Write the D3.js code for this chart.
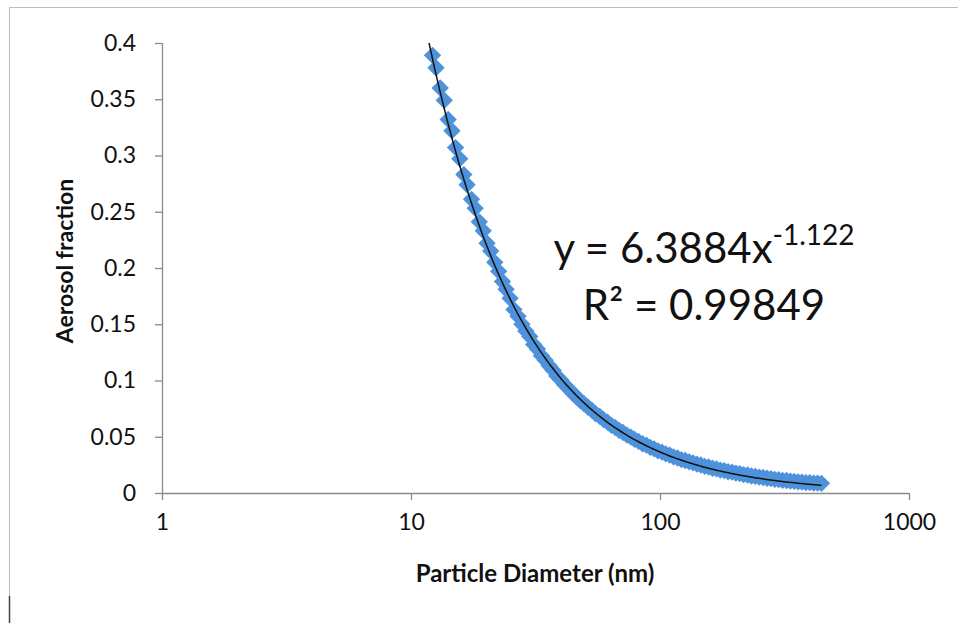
<!DOCTYPE html>
<html>
<head>
<meta charset="utf-8">
<script src="https://cdn.jsdelivr.net/npm/d3@7"></script>
<style>
  body { margin: 0; background: #fff; }
  svg text { font-family: Lato, "Open Sans", sans-serif; fill: #111; }
</style>
</head>
<body>
<div id="chart"></div>
<script>
// particle diameters (nm)
const diameters = [12.2, 12.6, 13.1, 13.6, 14.1, 14.6, 15.1, 15.7, 16.3, 16.8,
  17.5, 18.1, 18.8, 19.5, 20.2, 20.9, 21.7, 22.5, 23.3, 24.1,
  25.0, 25.9, 26.9, 27.9, 28.9, 30.0, 31.1, 32.2, 33.4, 34.6,
  35.9, 37.2, 38.5, 40.0, 41.4, 42.9, 44.5, 46.1, 47.8, 49.6,
  51.4, 53.3, 55.2, 57.3, 59.4, 61.5, 63.8, 66.1, 68.5, 71.0,
  73.7, 76.4, 79.1, 82.0, 85.1, 88.2, 91.4, 94.7, 98.2, 101.8,
  105.5, 109.4, 113.4, 117.6, 121.9, 126.3, 131.0, 135.8, 140.7, 145.9,
  151.2, 156.8, 162.5, 168.5, 174.7, 181.1, 187.7, 194.6, 201.7, 209.1,
  216.7, 224.7, 232.9, 241.4, 250.3, 259.5, 269.0, 278.8, 289.0, 299.6,
  310.6, 322.0, 333.8, 346.0, 358.7, 371.8, 385.4, 399.5, 414.2, 429.4, 445.1];

// aerosol fraction for each diameter
const fractions = [0.389, 0.378, 0.360, 0.349, 0.332, 0.322, 0.307, 0.297, 0.283, 0.274,
  0.261, 0.253, 0.241, 0.233, 0.222, 0.215, 0.205, 0.197, 0.188, 0.181,
  0.173, 0.163, 0.157, 0.150, 0.144, 0.139, 0.132, 0.128, 0.122, 0.118,
  0.113, 0.109, 0.104, 0.1005, 0.0962, 0.0928, 0.0888, 0.0858, 0.0821, 0.0793,
  0.0762, 0.0735, 0.0704, 0.0681, 0.0652, 0.0630, 0.0601, 0.0582, 0.0557, 0.0538,
  0.0514, 0.0497, 0.0476, 0.0459, 0.0438, 0.0425, 0.0406, 0.0393, 0.0374, 0.0364,
  0.0347, 0.0337, 0.0321, 0.0311, 0.0296, 0.0289, 0.0276, 0.0268, 0.0256, 0.0249,
  0.0237, 0.0231, 0.0220, 0.0215, 0.0204, 0.0199, 0.0189, 0.0185, 0.0176, 0.0172,
  0.0163, 0.0160, 0.0151, 0.0148, 0.0141, 0.0138, 0.0131, 0.0128, 0.0121, 0.0119,
  0.0113, 0.0111, 0.0106, 0.0104, 0.0099, 0.0097, 0.0093, 0.0092, 0.0088, 0.0088, 0.0086];

// tick labels
const xTicks = [1, 10, 100, 1000];
const yTicks = [0, 0.05, 0.1, 0.15, 0.2, 0.25, 0.3, 0.35, 0.4];

// power trendline shown on the chart: y = a * x^b
const fitA = 6.3884;
const fitB = -1.122;
const fitR2 = '0.99849';

const width = 958;
const height = 623;
const margin = { top: 43, right: 49, bottom: 130, left: 162 };

const svg = d3.select('#chart')
  .append('svg')
  .attr('width', width)
  .attr('height', height);

// outer chart border
svg.append('rect')
  .attr('x', 9.5).attr('y', 7.5)
  .attr('width', 960).attr('height', 640)
  .attr('fill', 'none')
  .attr('stroke', '#bdbdbd');
svg.append('line')
  .attr('x1', 9.5).attr('x2', 9.5)
  .attr('y1', 596).attr('y2', 623)
  .attr('stroke', '#444').attr('stroke-width', 1.5);

const x = d3.scaleLog()
  .domain([1, 1000])
  .range([margin.left, width - margin.right]);

const y = d3.scaleLinear()
  .domain([0, 0.4])
  .range([height - margin.bottom, margin.top]);

const axisColor = '#8a8a8a';

// y axis
const yAxis = svg.append('g')
  .attr('transform', `translate(${margin.left},0)`)
  .call(d3.axisLeft(y).tickValues(yTicks).tickSize(7).tickPadding(19).tickFormat(d => String(+d.toFixed(2))));
yAxis.selectAll('text').attr('font-size', '23px');

// x axis
const xAxis = svg.append('g')
  .attr('transform', `translate(0,${height - margin.bottom})`)
  .call(d3.axisBottom(x).tickValues(xTicks).tickSize(7).tickPadding(14).tickFormat(d3.format('d')));
xAxis.selectAll('text').attr('font-size', '23px');

svg.selectAll('.domain').attr('stroke', axisColor).attr('stroke-width', 1.3);
svg.selectAll('.tick line').attr('stroke', axisColor).attr('stroke-width', 1.3);
svg.selectAll('.tick text').style('fill', '#111');
// flat domain ends (no outer tick hooks)
yAxis.select('.domain').attr('d', `M0.5,${y(0.4)}V${y(0)}`);
xAxis.select('.domain').attr('d', `M${margin.left},0.5H${width - margin.right}`);

// scatter points as diamonds
const points = diameters.map((d, i) => ({ d: d, f: fractions[i] }));
const diamond = d3.symbol().type(d3.symbolSquare).size(150);

svg.append('g')
  .attr('fill', '#4d92da')
  .selectAll('path')
  .data(points)
  .join('path')
  .attr('d', diamond)
  .attr('transform', p => `translate(${x(p.d)},${y(p.f)}) rotate(45)`);

// trendline over the data range
svg.append('clipPath').attr('id', 'plot')
  .append('rect')
  .attr('x', margin.left).attr('y', margin.top)
  .attr('width', width - margin.left - margin.right)
  .attr('height', height - margin.top - margin.bottom);

const trend = d3.range(0, 201).map(i => {
  const lx = Math.log10(11.8) + (Math.log10(445.1) - Math.log10(11.8)) * i / 200;
  const dx = Math.pow(10, lx);
  return [dx, fitA * Math.pow(dx, fitB)];
});

svg.append('path')
  .datum(trend)
  .attr('clip-path', 'url(#plot)')
  .attr('fill', 'none')
  .attr('stroke', '#111')
  .attr('stroke-width', 1.5)
  .attr('d', d3.line().x(p => x(p[0])).y(p => y(p[1])));

// axis titles
svg.append('text')
  .attr('x', 535).attr('y', 582)
  .attr('text-anchor', 'middle')
  .attr('font-size', '24px')
  .attr('font-weight', 'bold')
  .text('Particle Diameter (nm)');

svg.append('text')
  .attr('transform', 'translate(73,261) rotate(-90)')
  .attr('text-anchor', 'middle')
  .attr('font-size', '23px')
  .attr('font-weight', 'bold')
  .text('Aerosol fraction');

// equation label
const eq = svg.append('text')
  .attr('x', 704).attr('y', 263)
  .attr('text-anchor', 'middle')
  .attr('font-size', '42px');
eq.append('tspan').text('y = ' + fitA + 'x');
eq.append('tspan').attr('font-size', '28px').attr('dy', -18).text(String(fitB));

svg.append('text')
  .attr('x', 704).attr('y', 320)
  .attr('text-anchor', 'middle')
  .attr('font-size', '42px')
  .text('R\u00B2 = ' + fitR2);
</script>
</body>
</html>
